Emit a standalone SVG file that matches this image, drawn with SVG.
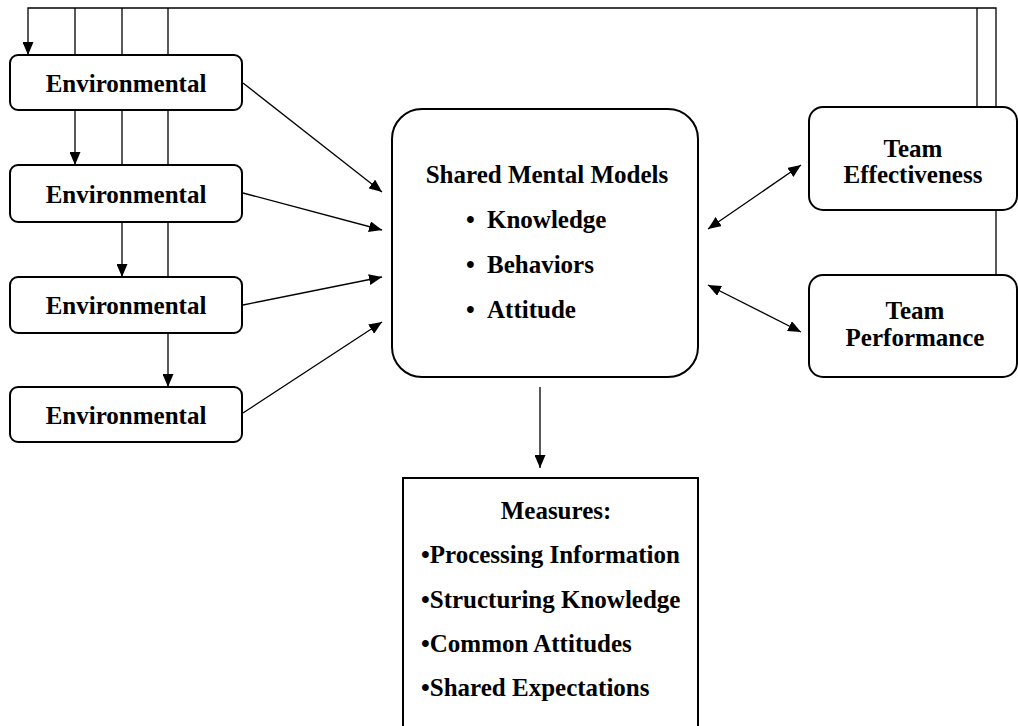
<svg xmlns="http://www.w3.org/2000/svg" width="1018" height="726" viewBox="0 0 1018 726">
  <style>
    .box { fill: #fff; stroke: #000; stroke-width: 2; }
    .lbl { font-family: "Liberation Serif", "Times New Roman", serif; font-weight: bold; font-size: 25px; fill: #000; }
    .mid { text-anchor: middle; }
    .wire { fill: none; stroke: #000; stroke-width: 1.3; }
  </style>
  <defs>
    <marker id="head" viewBox="0 0 13 11" refX="13" refY="5.5" markerWidth="13" markerHeight="11" markerUnits="userSpaceOnUse" orient="auto">
      <path d="M0,0 L13,5.5 L0,11 Z" fill="#000"/>
    </marker>
    <marker id="tail" viewBox="0 0 13 11" refX="0" refY="5.5" markerWidth="13" markerHeight="11" markerUnits="userSpaceOnUse" orient="auto">
      <path d="M13,0 L0,5.5 L13,11 Z" fill="#000"/>
    </marker>
  </defs>

  <rect width="1018" height="726" fill="#fff"/>

  <!-- connectors -->
  <g id="connectors">
    <!-- feedback loop along the top -->
    <path class="wire" d="M977,107 V8"/>
    <path class="wire" d="M996,107 V8 H28 V55" marker-end="url(#head)"/>
    <path class="wire" d="M75,8 V55"/>
    <path class="wire" d="M122,8 V55"/>
    <path class="wire" d="M168,8 V55"/>
    <!-- chain between environmental boxes -->
    <path class="wire" d="M75,110 V165" marker-end="url(#head)"/>
    <path class="wire" d="M122,110 V165"/>
    <path class="wire" d="M168,110 V165"/>
    <path class="wire" d="M122,222 V277" marker-end="url(#head)"/>
    <path class="wire" d="M168,222 V277"/>
    <path class="wire" d="M168,333 V387" marker-end="url(#head)"/>
    <!-- environmental to shared mental models -->
    <path class="wire" d="M243,83 L382,192" marker-end="url(#head)"/>
    <path class="wire" d="M243,193 L382,230" marker-end="url(#head)"/>
    <path class="wire" d="M243,305 L382,277" marker-end="url(#head)"/>
    <path class="wire" d="M243,413 L382,322" marker-end="url(#head)"/>
    <!-- shared mental models to outcomes -->
    <path class="wire" d="M708,229 L801,165" marker-start="url(#tail)" marker-end="url(#head)"/>
    <path class="wire" d="M708,285 L801,332" marker-start="url(#tail)" marker-end="url(#head)"/>
    <path class="wire" d="M996,210 V275"/>
    <!-- shared mental models to measures -->
    <path class="wire" d="M540,387 V468" marker-end="url(#head)"/>
  </g>

  <g id="env1">
    <rect class="box" x="10" y="55" width="232" height="55" rx="8"/>
    <text class="lbl mid" x="126" y="92">Environmental</text>
  </g>
  <g id="env2">
    <rect class="box" x="10" y="165" width="232" height="57" rx="8"/>
    <text class="lbl mid" x="126" y="203">Environmental</text>
  </g>
  <g id="env3">
    <rect class="box" x="10" y="277" width="232" height="56" rx="8"/>
    <text class="lbl mid" x="126" y="314">Environmental</text>
  </g>
  <g id="env4">
    <rect class="box" x="10" y="387" width="232" height="55" rx="8"/>
    <text class="lbl mid" x="126" y="424">Environmental</text>
  </g>

  <g id="smm">
    <rect class="box" x="392" y="109" width="306" height="268" rx="30"/>
    <text class="lbl mid" x="547" y="183">Shared Mental Models</text>
    <text class="lbl" x="466" y="228">•</text>
    <text class="lbl" x="487" y="228">Knowledge</text>
    <text class="lbl" x="466" y="273">•</text>
    <text class="lbl" x="487" y="273">Behaviors</text>
    <text class="lbl" x="466" y="318">•</text>
    <text class="lbl" x="487" y="318">Attitude</text>
  </g>

  <g id="effectiveness">
    <rect class="box" x="809" y="107" width="208" height="103" rx="14"/>
    <text class="lbl mid" x="913" y="157">Team</text>
    <text class="lbl mid" x="913" y="183">Effectiveness</text>
  </g>
  <g id="performance">
    <rect class="box" x="809" y="275" width="208" height="102" rx="14"/>
    <text class="lbl mid" x="915" y="319">Team</text>
    <text class="lbl mid" x="915" y="346">Performance</text>
  </g>

  <g id="measures">
    <rect class="box" x="403" y="478" width="295" height="260" stroke-width="2.5"/>
    <text class="lbl mid" x="556" y="519">Measures:</text>
    <text class="lbl" x="421" y="563">•Processing Information</text>
    <text class="lbl" x="421" y="608">•Structuring Knowledge</text>
    <text class="lbl" x="421" y="652">•Common Attitudes</text>
    <text class="lbl" x="421" y="696">•Shared Expectations</text>
  </g>
</svg>
